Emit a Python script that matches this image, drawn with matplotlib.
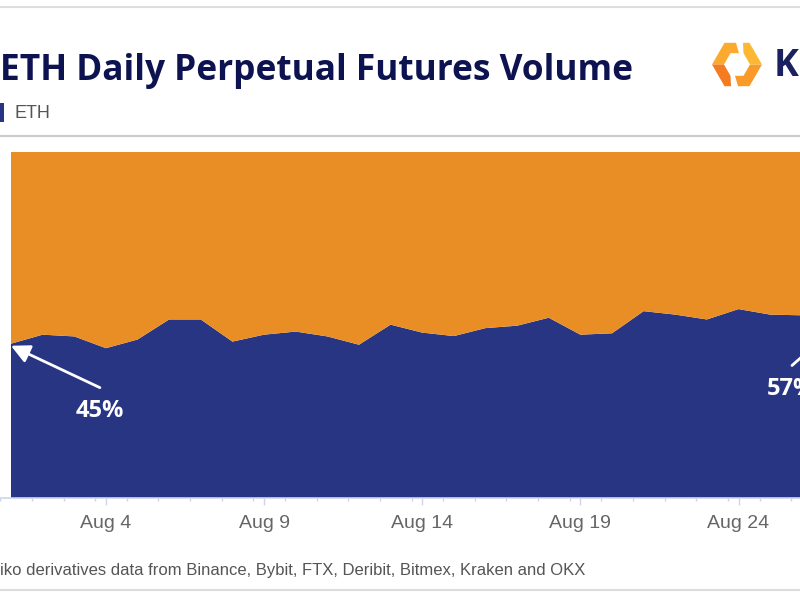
import numpy as np
import matplotlib
matplotlib.use("Agg")
import matplotlib.pyplot as plt
from matplotlib.patches import Polygon, Rectangle

# ETH share of BTC+ETH perpetual futures volume, Aug 1..28 2022 (%)
days = list(range(1, 29))
eth_share = [44.6, 47.2, 46.7, 43.3, 45.8, 51.6, 51.6, 45.2, 47.2, 48.1,
             46.7, 44.3, 50.1, 47.8, 46.8, 49.1, 49.8, 52.1, 47.2, 47.6,
             54.0, 53.0, 51.6, 54.6, 53.0, 52.8, 55.0, 57.0]
btc_share = [100 - v for v in eth_share]
tick_days = [4, 9, 14, 19, 24]
tick_labels = ["Aug %d" % d for d in tick_days]

blue = "#283583"
orange = "#e98e24"
navy = "#0d1250"

fig = plt.figure(figsize=(8, 6), dpi=100)

# main plot, deliberately wider than the figure (chart is cropped on the right)
px_day = 32.4
x0 = days[0] - 11 / 31.67
x1 = days[-1]
ax = fig.add_axes([0, 102 / 600, (x1 - x0) * px_day / 800, 346 / 600])
ax.stackplot(days, eth_share, btc_share, colors=[blue, orange], lw=0)
ax.set_xlim(x0, x1)
ax.set_ylim(0, 100)

for s in ["top", "left", "right"]:
    ax.spines[s].set_visible(False)
ax.spines["bottom"].set_color("#ccd6eb")
ax.spines["bottom"].set_linewidth(1.2)
ax.set_yticks([])

ax.set_xticks(tick_days)
ax.set_xticklabels(tick_labels)
ax.set_xticks(days[0] - 0.337 + np.arange(29), minor=True)
ax.tick_params(axis="x", which="major", length=5, width=1, color="#ccd6eb",
               labelsize=14, labelcolor="#666666", pad=7)
ax.tick_params(axis="x", which="minor", length=2.5, width=1, color="#ccd6eb")
for lab in ax.get_xticklabels():
    lab.set_family("Liberation Sans")

# callouts
arrow = dict(arrowstyle="-|>,head_length=0.8,head_width=0.4", color="white",
             lw=2, mutation_scale=14, shrinkA=0, shrinkB=0)
ax.annotate("", xy=(days[0], 44.0), xytext=(days[0] + 2.81, 31.9), arrowprops=arrow)
ax.text(days[0] + 2.81, 25.2, "45%", color="white", fontsize=17, fontweight="bold",
        family="Open Sans", ha="center", va="center")
ax.annotate("", xy=(days[-1], eth_share[-1]), xytext=(days[0] + 24.69, 38.3),
            arrowprops=arrow)
ax.text(days[0] + 24.66, 31.6, "57%", color="white", fontsize=17, fontweight="bold",
        family="Open Sans", ha="center", va="center")

# overlay in pixel coordinates for header, legend, logo and footer
ov = fig.add_axes([0, 0, 1, 1], zorder=-1)
ov.set_xlim(0, 800)
ov.set_ylim(600, 0)
ov.axis("off")

for y, c in [(7, "#dddddd"), (135.5, "#cccccc"), (590, "#dddddd")]:
    ov.plot([0, 800], [y, y], color=c, lw=1.5)

ov.text(0, 80, "ETH Daily Perpetual Futures Volume", fontsize=25.4,
        fontweight="bold", color=navy, family="Open Sans", va="baseline")

ov.add_patch(Rectangle((-4, 103), 8, 19, color=blue, lw=0))
ov.text(14, 113, "ETH", fontsize=13, color="#555555", family="Liberation Sans",
        va="center")

ov.text(0, 570, "iko derivatives data from Binance, Bybit, FTX, Deribit, Bitmex, Kraken and OKX",
        fontsize=12, color="#555555", family="Liberation Sans", va="center")

# Kaiko logo (two hexagon halves)
cx, cy = 737, 64.5
left_up = [(736, 42.8), (724.5, 42.8), (712, 64.5), (724, 64.5), (730.5, 53.2), (739, 53.2)]
left_lo = [(712, 64.5), (724.5, 86.2), (731, 86.2), (730.5, 75.8), (724, 64.5)]
rot = lambda pts: [(2 * cx - x, 2 * cy - y) for x, y in pts]
for pts, c in [(left_up, "#fbaa30"), (left_lo, "#f47b20"),
               (rot(left_up), "#f99a2a"), (rot(left_lo), "#fdb833")]:
    ov.add_patch(Polygon(pts, closed=True, color=c, lw=0))
ov.text(774, 66, "K", fontsize=27, fontweight="bold", color="#1b2060",
        family="Open Sans", va="center")

fig.savefig("out.png", dpi=100)
